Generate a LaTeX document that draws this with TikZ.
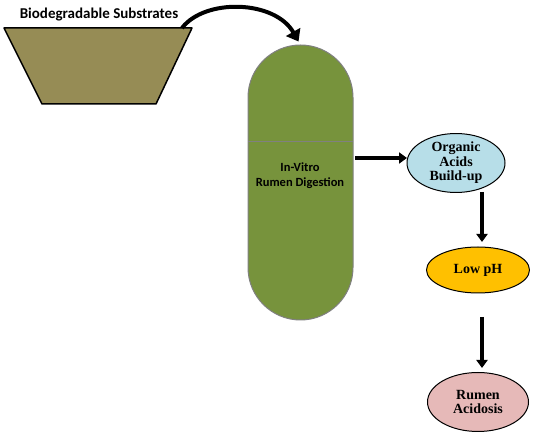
\documentclass[tikz,border=0pt]{standalone}
\usepackage{fontspec}
\setmainfont{Liberation Serif}
\newfontfamily\calibri{Carlito}
\usetikzlibrary{shapes.geometric,arrows.meta,calc}

\definecolor{substrate}{HTML}{968C55}
\definecolor{rumengreen}{HTML}{77933C}
\definecolor{acidblue}{HTML}{B7DEE8}
\definecolor{phorange}{HTML}{FFC000}
\definecolor{acidpink}{HTML}{E6B9B8}

\tikzset{
    flow/.style={line width=3.5pt, -{Triangle[length=8pt,width=11pt]}},
    stage/.style={ellipse, draw, line width=1pt, inner sep=0pt, outer sep=0pt, align=center,
        font=\fontsize{14}{14.5}\selectfont\bfseries},
    capsule/.style={draw=gray, line width=1pt, fill=rumengreen, rounded corners=52.5pt,
        minimum width=105pt, minimum height=275pt, inner sep=0pt, outer sep=0pt}
}

\begin{document}
\begin{tikzpicture}[x=1pt, y=-1pt, line join=round]
    \useasboundingbox (0,0) rectangle (550,443);

    % Behälter mit den Substraten
    \coordinate (subtl) at (4,28);
    \coordinate (subtr) at (192,28);
    \filldraw[fill=substrate, line width=1.5pt] (subtl) -- (subtr) -- (156,104) -- (42,104) -- cycle;
    \node[font=\calibri\fontsize{15}{17}\selectfont\bfseries] (sublabel) at (99,15) {Biodegradable Substrates};

    % Fermenter
    \node[capsule] (rumen) at (300.5,182.5) {};
    \draw[gray, line width=1pt] (rumen.west |- 0,142) -- (rumen.east |- 0,142);
    \node[font=\calibri\fontsize{12.5}{15}\selectfont\bfseries, align=center] (rumenlabel) at (300,176)
        {In-Vitro\\Rumen Digestion};

    % Folgen
    \node[stage, fill=acidblue, minimum width=98pt, minimum height=57pt] (org) at (456,163)
        {Organic\\Acids\\Build-up};
    \node[stage, fill=phorange, minimum width=103pt, minimum height=46pt] (lowph) at (478,270) {Low pH};
    \node[stage, fill=acidpink, minimum width=101pt, minimum height=59pt] (acidosis) at (478,402)
        {Rumen\\Acidosis};

    % Pfeile
    \draw[line width=4pt, -{Triangle[length=11pt,width=16pt]}, shorten >=4pt]
        ([xshift=-10pt]subtr) .. controls (205,-2) and (275,0) .. (rumen.north);
    \coordinate (h) at (0,158);
    \draw[flow, shorten <=2pt] (rumen.east |- h) -- (org.west |- h);
    \draw[flow, shorten <=5pt, shorten >=5pt] (482,187) -- (482,247);
    \draw[flow, shorten <=24pt, shorten >=5pt] (482,293) -- (482,373);
\end{tikzpicture}
\end{document}
